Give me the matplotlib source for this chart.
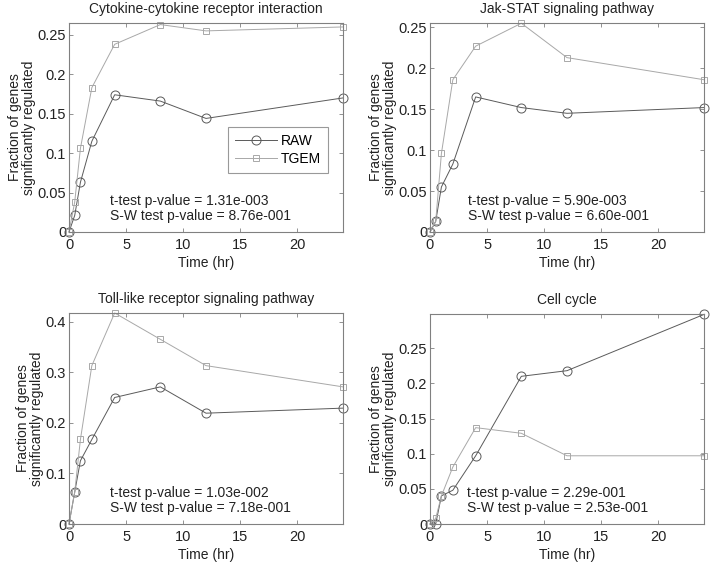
import numpy as np
import matplotlib
matplotlib.use('Agg')
import matplotlib.pyplot as plt

plt.rcParams['font.family'] = ['Liberation Sans', 'DejaVu Sans']

# time points (hr)
t = [0, 0.5, 1, 2, 4, 8, 12, 24]

titles = ['Cytokine-cytokine receptor interaction', 'Jak-STAT signaling pathway',
          'Toll-like receptor signaling pathway', 'Cell cycle']

raw_cyto = [0, 0.021, 0.063, 0.115, 0.174, 0.166, 0.144, 0.170]
tgem_cyto = [0, 0.038, 0.106, 0.183, 0.238, 0.263, 0.255, 0.260]
raw_jak = [0, 0.013, 0.055, 0.083, 0.165, 0.152, 0.145, 0.152]
tgem_jak = [0, 0.013, 0.096, 0.186, 0.227, 0.255, 0.213, 0.186]
raw_toll = [0, 0.063, 0.125, 0.167, 0.250, 0.271, 0.219, 0.229]
tgem_toll = [0, 0.063, 0.167, 0.313, 0.417, 0.365, 0.313, 0.271]
raw_cell = [0, 0, 0.040, 0.048, 0.097, 0.210, 0.218, 0.298]
tgem_cell = [0, 0.008, 0.040, 0.081, 0.137, 0.129, 0.097, 0.097]

ttest = ['1.31e-003', '5.90e-003', '1.03e-002', '2.29e-001']
swtest = ['8.76e-001', '6.60e-001', '7.18e-001', '2.53e-001']
ymax = [0.265, 0.2553, 0.417, 0.2986]
yticks = [np.arange(0, 0.26, 0.05), np.arange(0, 0.26, 0.05),
          np.arange(0, 0.41, 0.1), np.arange(0, 0.26, 0.05)]

raws = [raw_cyto, raw_jak, raw_toll, raw_cell]
tgems = [tgem_cyto, tgem_jak, tgem_toll, tgem_cell]

# axes boxes in pixels: left, top, right, bottom
boxes = [(69, 23, 343, 232), (430, 23, 704, 232),
         (69, 313, 343, 524), (430, 314, 704, 524)]
text_x = [0.15, 0.14, 0.15, 0.135]

W, H = 711, 564
fig = plt.figure(figsize=(W / 100, H / 100), dpi=100)
spine_c = '#808080'
raw_c = '#5a5a5a'
tgem_c = '#a8a8a8'
txt_c = '#222222'

for i in range(4):
    l, tp, r, b = boxes[i]
    hpx = b - tp
    ax = fig.add_axes([l / W, 1 - b / H, (r - l) / W, hpx / H])
    ax.plot(t, raws[i], '-o', color=raw_c, lw=0.7, ms=6.5, mfc='none',
            mew=0.7, label='RAW', clip_on=False)
    ax.plot(t, tgems[i], '-s', color=tgem_c, lw=0.7, ms=5, mfc='none',
            mew=0.7, label='TGEM', clip_on=False)
    ax.set_xlim(0, 24)
    ax.set_ylim(0, ymax[i])
    ax.set_xticks([0, 5, 10, 15, 20])
    ax.set_yticks(yticks[i])
    ax.set_yticklabels(['0'] + ['%g' % v for v in yticks[i][1:]])
    for s in ax.spines.values():
        s.set_color(spine_c)
        s.set_linewidth(0.8)
    ax.tick_params(direction='in', length=3, width=0.6, color=spine_c,
                   top=True, right=True, labelsize=10.5, labelcolor=txt_c)
    ax.tick_params(axis='x', pad=4)
    ax.tick_params(axis='y', pad=2)
    ax.set_title(titles[i], fontsize=10, color=txt_c, pad=7)
    ax.set_xlabel('Time (hr)', fontsize=10, color=txt_c, labelpad=3)
    ax.set_ylabel('Fraction of genes\nsignificantly regulated', fontsize=10,
                  color=txt_c, labelpad=1, linespacing=1.0)
    ax.text(text_x[i], 31 / hpx, 't-test p-value = ' + ttest[i],
            transform=ax.transAxes, fontsize=10, color=txt_c, va='center')
    ax.text(text_x[i], 16 / hpx, 'S-W test p-value = ' + swtest[i],
            transform=ax.transAxes, fontsize=10, color=txt_c, va='center')
    if i == 0:
        leg = ax.legend(loc='upper left',
                        bbox_to_anchor=((228 - l) / (r - l), 1 - (127 - tp) / hpx),
                        fontsize=10, frameon=True, fancybox=False,
                        handlelength=3, borderpad=0.5, labelspacing=0.3,
                        handletextpad=0.3, borderaxespad=0)
        leg.get_frame().set_edgecolor(spine_c)
        leg.get_frame().set_linewidth(0.8)

fig.savefig('out.png', dpi=100)
